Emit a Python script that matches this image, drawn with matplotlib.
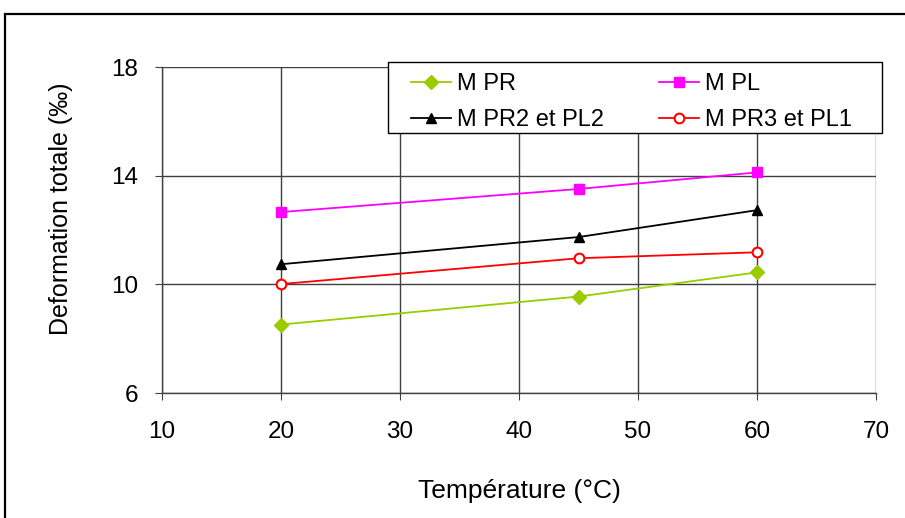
import matplotlib
matplotlib.use("Agg")
import matplotlib.pyplot as plt
from matplotlib.patches import Rectangle

plt.rcParams['font.family'] = ['Liberation Sans', 'DejaVu Sans']

temperature = [20, 45, 60]
m_pr = [8.52, 9.55, 10.44]
m_pl = [12.66, 13.51, 14.12]
m_pr2_pl2 = [10.74, 11.74, 12.73]
m_pr3_pl1 = [10.01, 10.96, 11.18]

x_ticks = [10, 20, 30, 40, 50, 60, 70]
y_ticks = [6, 10, 14, 18]

W, H = 905, 518
fig = plt.figure(figsize=(W / 100, H / 100), dpi=100)
ax = fig.add_axes([162 / W, 1 - 393 / H, (876 - 162) / W, (393 - 67) / H])

ax.set_xlim(10, 70)
ax.set_ylim(6, 18)
ax.set_xticks(x_ticks)
ax.set_yticks(y_ticks)
ax.grid(True, color='#404040', linewidth=1.0)
ax.set_axisbelow(True)
for side in ['top', 'right']:
    ax.spines[side].set_visible(False)
for side in ['left', 'bottom']:
    ax.spines[side].set_color('#404040')
    ax.spines[side].set_linewidth(1.0)
ax.tick_params(direction='out', length=5, color='#404040', labelsize=17.5)
ax.tick_params(axis='y', pad=12)
ax.tick_params(axis='x', pad=15)

l_pr, = ax.plot(temperature, m_pr, color='#99CC00', marker='D', markersize=7.5, lw=1.3, label='M PR')
l_pl, = ax.plot(temperature, m_pl, color='#FF00FF', marker='s', markersize=7.5, lw=1.3, label='M PL')
l_pr2, = ax.plot(temperature, m_pr2_pl2, color='black', marker='^', markersize=7.5, lw=1.3,
                 label='M PR2 et PL2')
l_pr3, = ax.plot(temperature, m_pr3_pl1, color='#FF0000', marker='o', markersize=7, lw=1.3,
                 markerfacecolor='white', markeredgewidth=1.5, label='M PR3 et PL1')

ax.set_xlabel('Température (°C)', fontsize=19, labelpad=26)
ax.set_ylabel('Deformation totale (‰)', fontsize=18, labelpad=26)
ax.yaxis.set_label_coords(-0.125, (393 - 209) / (393 - 67))

# legend box
fig.patches.append(Rectangle((388 / W, 1 - 133 / H), (882 - 388) / W, (133 - 62) / H,
                             transform=fig.transFigure, facecolor='white', edgecolor='black',
                             linewidth=1.0, zorder=3))
leg = fig.legend([l_pr, l_pr2, l_pl, l_pr3], [h.get_label() for h in (l_pr, l_pr2, l_pl, l_pr3)],
                 loc='upper left', ncol=2, fontsize=17,
                 bbox_to_anchor=(411 / W, 1 - 130 / H, (852 - 411) / W, (130 - 73) / H),
                 mode='expand', frameon=False, borderpad=0, borderaxespad=0,
                 handlelength=1.7, handletextpad=0.25, labelspacing=0.6)
leg.set_zorder(4)

# outer frame
fig.patches.append(Rectangle((5 / W, -0.1), 1.2, 1 - 14 / H + 0.1, transform=fig.transFigure,
                             fill=False, edgecolor='black', linewidth=1.6, zorder=5))

fig.savefig('out.png', dpi=100)
